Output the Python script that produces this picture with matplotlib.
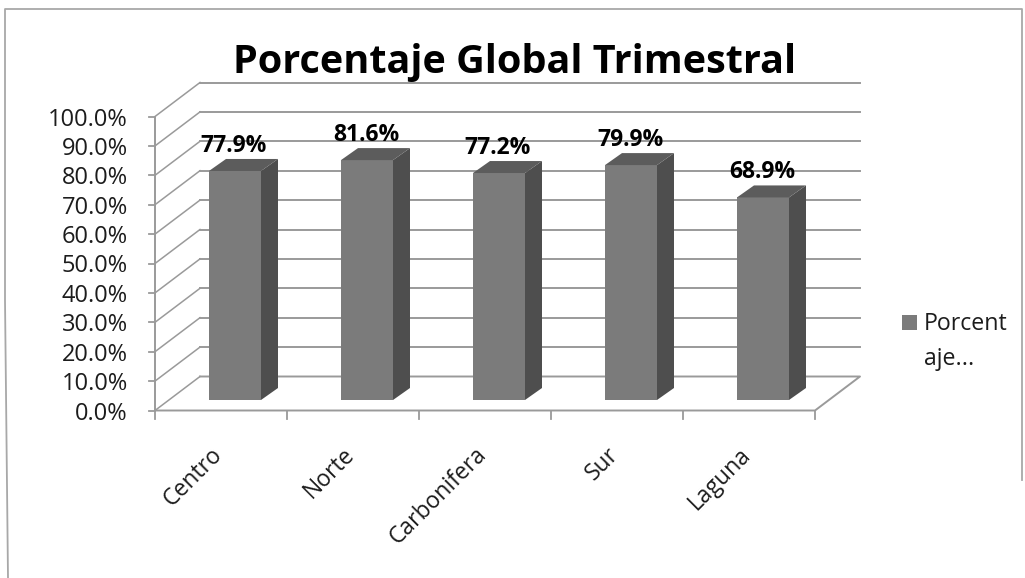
# -*- coding: utf-8 -*-
"""Porcentaje Global Trimestral: pseudo-3D Excel style columns."""
import matplotlib
matplotlib.use("Agg")
import matplotlib.pyplot as plt
from matplotlib.patches import Rectangle

plt.rcParams["font.family"] = ["Open Sans", "DejaVu Sans"]

categories = ["Centro", "Norte", "Carbonifera", "Sur", "Laguna"]
values = [77.9, 81.6, 77.2, 79.9, 68.9]
y_ticks = [0, 10, 20, 30, 40, 50, 60, 70, 80, 90, 100]

W, H = 1025, 578
AX_L, AX_R, AX_B, AX_T = 155, 815, 410.5, 116.5   # axes box in pixels, from top
CAT_PX = (AX_R - AX_L) / len(categories)
PCT_PX = (AX_B - AX_T) / 100

LINE = "#9a9a9a"
FRONT = "#7b7b7b"
SIDE = "#4e4e4e"
TOP = "#5c5c5c"
TEXT = "#1c1c1c"


def px_x(px):
    return px / CAT_PX


def px_y(px):
    return px / PCT_PX


fig = plt.figure(figsize=(W / 100, H / 100), dpi=100, facecolor="white")
ax = fig.add_axes([AX_L / W, 1 - AX_B / H, (AX_R - AX_L) / W, (AX_B - AX_T) / H])
ax.set_xlim(0, len(categories))
ax.set_ylim(0, 100)
ax.axis("off")

# wall depth
wx, wy = px_x(45), px_y(34)

# gridlines: slanted piece on the side wall + back wall line
for t in y_ticks:
    ax.plot([0, wx], [t, t + wy], color=LINE, lw=1.1, clip_on=False, zorder=1)
    if t > 0:
        ax.plot([wx, len(categories) + wx], [t + wy, t + wy], color=LINE, lw=1.4,
                clip_on=False, zorder=1)
    ax.plot([0, -px_x(6)], [t, t], color=LINE, lw=1.3, clip_on=False, zorder=1)
    ax.text(-px_x(27), t - px_y(3), "%.1f%%" % t, ha="right", va="center", fontsize=17,
            color=TEXT, clip_on=False)

# floor and axes
n = len(categories)
ax.plot([wx, n + wx, n, 0], [wy, wy, 0, 0], color=LINE, lw=1.4, clip_on=False, zorder=1)
ax.plot([0, 0], [0, 100], color=LINE, lw=1.4, clip_on=False, zorder=1)
for i in range(n + 1):
    ax.plot([i, i], [0, -px_y(8)], color=LINE, lw=1.3, clip_on=False, zorder=1)

# columns
base = px_y(10.5)
bar_w = px_x(52)
dx, dy = px_x(17), px_y(12)
shift = px_x(14)
for i, (name, v) in enumerate(zip(categories, values)):
    cx = i + 0.5 + shift
    left, right = cx - bar_w / 2, cx + bar_w / 2
    top = base + v
    ax.add_patch(Rectangle((left, base), bar_w, v, fc=FRONT, ec="none",
                           clip_on=False, zorder=3))
    ax.fill([right, right + dx, right + dx, right],
            [base, base + dy, top + dy, top], fc=SIDE, ec="none", clip_on=False, zorder=3)
    ax.fill([left, left + dx, right + dx, right],
            [top, top + dy, top + dy, top], fc=TOP, ec="none", clip_on=False, zorder=3)
    ax.text(cx - px_x(1), top + px_y(25), "%.1f%%" % v, ha="center", va="center",
            fontsize=16.5, fontweight="bold", color="black", clip_on=False, zorder=5)
    ax.text(i + 0.5 - px_x(2), -px_y(41), name, rotation=45, rotation_mode="anchor",
            ha="right", va="center", fontsize=16.5, color=TEXT, clip_on=False)

# title, legend, chart frame
fig.text(515 / W, 1 - 63 / H, "Porcentaje Global Trimestral", ha="center", va="center",
         fontsize=28.5, fontweight="bold", color="black")

fig.patches.append(Rectangle((902 / W, 1 - 330 / H), 15 / W, 15 / H, fc=FRONT, ec="none",
                             transform=fig.transFigure))
fig.text(924 / W, 1 - 324 / H, "Porcent", ha="left", va="center", fontsize=16.7, color=TEXT)
fig.text(924 / W, 1 - 359 / H, "aje...", ha="left", va="center", fontsize=16.7, color=TEXT)

fig.add_artist(plt.Line2D([8 / W, 5 / W, 5 / W, 1022 / W, 1022 / W],
                          [0, 1 - 300 / H, 1 - 9 / H, 1 - 9 / H, 1 - 480 / H],
                          color="#a8a8a8", lw=1.3, transform=fig.transFigure))

fig.savefig("out.png", dpi=100)
